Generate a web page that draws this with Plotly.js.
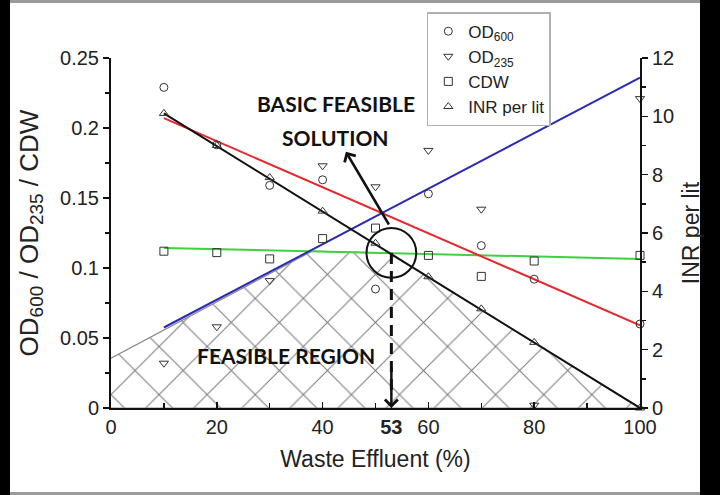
<!DOCTYPE html>
<html>
<head>
<meta charset="utf-8">
<script src="https://cdn.plot.ly/plotly-3.0.1.min.js"></script>
<style>
  body { margin: 0; background: #000; }
  #wrap { position: relative; width: 720px; height: 495px; background: #000; overflow: hidden; }
  #sheet { position: absolute; left: 10px; top: 0; width: 690px; height: 495px; background: #fff;
           border-top: 3px solid #9a9a9a; border-bottom: 3px solid #9a9a9a; box-sizing: border-box; }
  #myDiv { position: absolute; left: 0; top: 0; width: 720px; height: 495px; }
</style>
</head>
<body>
<div id="wrap">
  <div id="sheet"></div>
  <div id="myDiv"></div>
</div>
<script>
// measured points
var effluent = [10, 20, 30, 40, 50, 60, 70, 80, 100]
var od600 = [0.229, 0.188, 0.159, 0.163, 0.085, 0.153, 0.116, 0.092, 0.060]
var od235 = [0.032, 0.058, 0.091, 0.173, 0.158, 0.184, 0.142, 0.002, 0.221]
var cdw = [0.112, 0.111, 0.1065, 0.121, 0.1285, 0.109, 0.094, 0.105, 0.109]
var inr = [10.1, 9.0, 7.9, 6.75, 5.65, 4.5, 3.4, 2.25, 0]

// fitted lines (end points)
var fitX = [10, 100]
var od600Fit = [0.207, 0.059]
var od235Fit = [0.0575, 0.236]
var cdwFit = [0.1143, 0.1065]
var inrFit = [10.1, 0]

// feasible region outline
var regionX = [0, 38, 52.5, 100, 0]
var regionY = [0.0355, 0.112, 0.1106, 0, 0]

var xTicks = [0, 20, 40, 53, 60, 80, 100]
var xTickText = ['0', '20', '40', '<b>53</b>', '60', '80', '100']

var mk = function(sym) {
  return {symbol: sym, size: 8, color: '#333', line: {color: '#333', width: 1}}
}

var region = {
  x: regionX, y: regionY, mode: 'lines', fill: 'toself', showlegend: false,
  line: {color: '#8a8a8a', width: 1.2},
  fillcolor: 'rgba(0,0,0,0)',
  fillpattern: {shape: 'x', size: 34, solidity: 0.06, fgcolor: '#7a7a7a', bgcolor: 'rgba(0,0,0,0)'},
  hoverinfo: 'skip'
}

var fitRed = {x: fitX, y: od600Fit, mode: 'lines', showlegend: false, line: {color: '#e8262b', width: 2}}
var fitBlue = {x: fitX, y: od235Fit, mode: 'lines', showlegend: false, line: {color: '#2a2ab4', width: 2}}
var fitGreen = {x: fitX, y: cdwFit, mode: 'lines', showlegend: false, line: {color: '#3fd13f', width: 2}}
var fitBlack = {x: fitX, y: inrFit, yaxis: 'y2', mode: 'lines', showlegend: false, line: {color: '#111', width: 2}}

var t1 = {x: effluent, y: od600, name: 'OD<sub>600</sub>', mode: 'markers', marker: mk('circle-open'), cliponaxis: false}
var t2 = {x: effluent, y: od235, name: 'OD<sub>235</sub>', mode: 'markers', marker: mk('triangle-down-open'), cliponaxis: false}
var t3 = {x: effluent, y: cdw, name: 'CDW', mode: 'markers', marker: mk('square-open'), cliponaxis: false}
var t4 = {x: effluent, y: inr, name: 'INR per lit', yaxis: 'y2', mode: 'markers', marker: mk('triangle-up-open'), cliponaxis: false}

var data = [region, fitGreen, fitRed, fitBlue, fitBlack, t1, t2, t3, t4]

var fnt = 'Liberation Sans, Arial, sans-serif'
var bold = 'Lato, Open Sans, sans-serif'

var leftTitle = 'OD<sub><span style="font-size:19px">600</span></sub> / OD<sub><span style="font-size:19px">235</span></sub> / CDW'

var layout = {
  width: 720, height: 495,
  margin: {l: 111, r: 80, t: 56, b: 87},
  paper_bgcolor: 'rgba(0,0,0,0)',
  plot_bgcolor: 'rgba(0,0,0,0)',
  font: {family: fnt, color: '#222', size: 20},
  showlegend: true,
  legend: {
    x: 0.597, y: 1.131, xanchor: 'left', yanchor: 'top',
    bgcolor: '#fff', bordercolor: '#b0b0b0', borderwidth: 1.5,
    font: {family: fnt, size: 17, color: '#222'},
    itemwidth: 30, tracegroupgap: 0
  },
  xaxis: {
    range: [0, 100], tickmode: 'array', tickvals: xTicks, ticktext: xTickText,
    showline: true, linecolor: '#111', linewidth: 2, zeroline: false, showgrid: false,
    ticks: 'inside', ticklen: 6, tickwidth: 1.5, tickcolor: '#111',
    minor: {dtick: 10, ticks: 'inside', ticklen: 5, tickcolor: '#111'},
    tickfont: {size: 20},
    title: {text: 'Waste Effluent (%)', font: {size: 23}, standoff: 14}
  },
  yaxis: {
    range: [0, 0.25], dtick: 0.05,
    showline: true, linecolor: '#111', linewidth: 2, zeroline: false, showgrid: false,
    ticks: 'outside', ticklen: 6, tickwidth: 1.5, tickcolor: '#111',
    minor: {dtick: 0.025, ticks: 'outside', ticklen: 4, tickcolor: '#111'},
    tickfont: {size: 20},
    title: {text: leftTitle, font: {size: 26}, standoff: 14}
  },
  yaxis2: {
    range: [0, 12], dtick: 2, overlaying: 'y', side: 'right',
    showline: true, linecolor: '#111', linewidth: 2, zeroline: false, showgrid: false,
    ticks: 'outside', ticklen: 6, tickwidth: 1.5, tickcolor: '#111',
    minor: {dtick: 1, ticks: 'outside', ticklen: 4, tickcolor: '#111'},
    tickfont: {size: 20},
    title: {text: 'INR per lit', font: {size: 23}, standoff: 10}
  },
  shapes: [
    {type: 'circle', xref: 'x', yref: 'y', x0: 48.3, x1: 57.7, y0: 0.093, y1: 0.1286,
     line: {color: '#111', width: 2}},
    {type: 'line', xref: 'x', yref: 'y', x0: 53, x1: 53, y0: 0.1108, y1: 0.008,
     line: {color: '#111', width: 3, dash: '11px,7px'}}
  ],
  annotations: [
    {x: 53, y: 0, ax: 53, ay: 0.03, xref: 'x', yref: 'y', axref: 'x', ayref: 'y',
     text: '', showarrow: true, arrowhead: 4, arrowsize: 1, arrowwidth: 2.5, arrowcolor: '#111'},
    {x: 44.4, y: 0.183, ax: 52.7, ay: 0.130, xref: 'x', yref: 'y', axref: 'x', ayref: 'y',
     text: '', showarrow: true, arrowhead: 4, arrowsize: 1, arrowwidth: 2.5, arrowcolor: '#111'},
    {x: 42.5, y: 0.2173, xref: 'x', yref: 'y', text: '<b>BASIC FEASIBLE</b>', showarrow: false,
     font: {family: bold, size: 21, color: '#111'}},
    {x: 42.5, y: 0.1932, xref: 'x', yref: 'y', text: '<b>SOLUTION</b>', showarrow: false,
     font: {family: bold, size: 21, color: '#111'}},
    {x: 33.1, y: 0.0376, xref: 'x', yref: 'y', text: '<b>FEASIBLE REGION</b>', showarrow: false,
     font: {family: bold, size: 21, color: '#111'}}
  ]
}

Plotly.newPlot('myDiv', data, layout, {staticPlot: true})
</script>
</body>
</html>
